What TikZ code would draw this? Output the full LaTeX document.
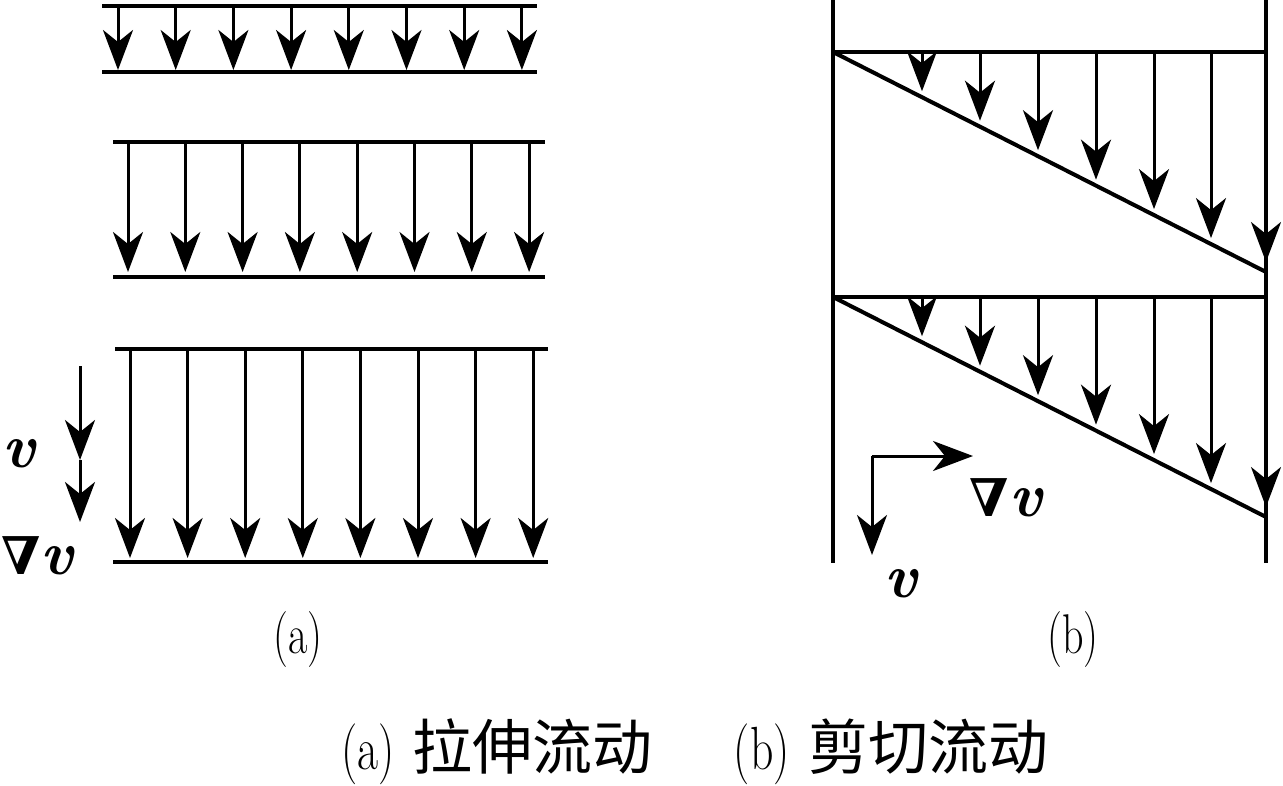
\documentclass[tikz,border=0pt]{standalone}
\usepackage{fontspec}
\usepackage{graphicx}
\usetikzlibrary{arrows.meta}
\newfontfamily\nabfont{DejaVu Serif}
\newfontfamily\cjk{Noto Sans CJK SC}
\newcommand{\narrow}[1]{\scalebox{0.75}[1]{#1}}
\newcommand{\mynab}{{\nabfont\bfseries\fontsize{52}{52}\selectfont ∇}}
\newcommand{\myv}{{\rmfamily\bfseries\itshape v}}
\begin{document}
\begin{tikzpicture}[x=1pt,y=-1pt,
  plate/.style={line width=4pt},
  shaft/.style={line width=3pt},
  arr/.style={shaft,-{Stealth[length=40pt,width=30pt,inset=12pt]}},
  sym/.style={inner sep=0pt,font=\fontsize{62}{62}\selectfont},
  lab/.style={inner sep=0pt,font=\fontsize{56}{56}\selectfont},
  captext/.style={inner sep=0pt,font=\fontsize{61}{61}\selectfont}]
\useasboundingbox (0,0) rectangle (1283,785);
% ---------- panel (a) ----------
\draw[plate] (102,6) -- (537,6);
\draw[plate] (102,72) -- (537,72);
\foreach \i in {0,...,7}{
  \draw[arr] ({118+57.7*\i},6) -- ({118+57.7*\i},70);
}
\draw[plate] (113,142) -- (545,142);
\draw[plate] (113,277) -- (545,277);
\foreach \i in {0,...,7}{
  \draw[arr] ({128+57.3*\i},142) -- ({128+57.3*\i},272);
}
\draw[plate] (115,349) -- (548,349);
\draw[plate] (113,562) -- (548,562);
\foreach \i in {0,...,7}{
  \draw[arr] ({130+57.6*\i},349) -- ({130+57.6*\i},558);
}
\coordinate (va0) at (80,366);
\coordinate (va1) at (80,460);
\coordinate (va2) at (80,522);
\draw[arr] (va0) -- (va1);
\draw[arr] (va1) -- (va2);
\node[sym] (vA) at (19,454) {\myv};
\node[sym,anchor=west] (gA) at (1,556) {\mynab\myv};
\node[lab] (la) at (298,640) {\narrow{(a)}};
% ---------- panel (b) ----------
\draw[plate] (833,0) -- (833,563);
\draw[plate] (1266,0) -- (1266,563);
\draw[plate] (833,52) -- (1266,52);
\draw[plate] (833,297) -- (1266,297);
\draw[plate] (833,52) -- (1266,272);
\draw[plate] (833,297) -- (1266,517);
\foreach \x in {922,980,1038,1096,1154,1211}{
  \pgfmathsetmacro\ya{52+(\x-833)*0.5081-6}
  \pgfmathsetmacro\yb{297+(\x-833)*0.5081-6}
  \draw[arr] (\x,52) -- (\x,\ya);
  \draw[arr] (\x,297) -- (\x,\yb);
}
\draw[arr] (1266,52) -- (1266,262);
\draw[arr] (1266,297) -- (1266,507);
\coordinate (ax0) at (872,456);
\coordinate (axh) at (973,456);
\coordinate (axv) at (872,555);
\draw[arr] (ax0) -- (axh);
\draw[arr] (ax0) -- (axv);
\node[sym] (gB) at (1006,498) {\mynab\myv};
\node[sym] (vB) at (901,584) {\myv};
\node[lab] (lb) at (1073,640) {\narrow{(b)}};
% ---------- caption ----------
\node[captext] (ca) at (497,752) {\narrow{(a)}\hspace{0.3em}{\cjk\fontsize{60}{60}\selectfont 拉伸流动}};
\node[captext] (cb) at (891,752) {\narrow{(b)}\hspace{0.3em}{\cjk\fontsize{60}{60}\selectfont 剪切流动}};
\end{tikzpicture}
\end{document}
